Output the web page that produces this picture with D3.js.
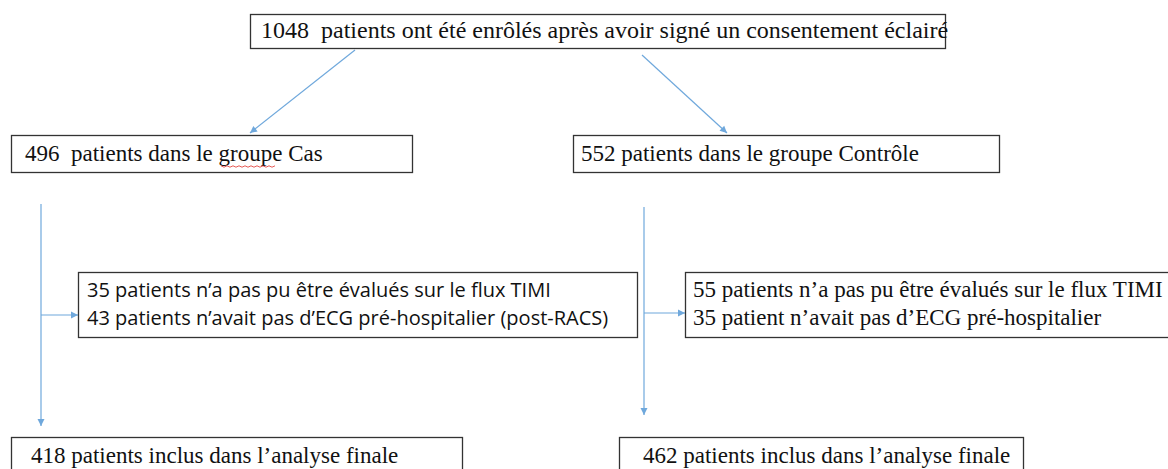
<!DOCTYPE html>
<html>
<head>
<meta charset="utf-8">
<script src="https://cdn.jsdelivr.net/npm/d3@7"></script>
<style>
  body { margin: 0; background: #fff; }
  svg { display: block; }
</style>
</head>
<body>
<svg id="chart"></svg>
<script>
// flow chart content
var enrolled = ["1048\u00a0 patients ont été enrôlés après avoir signé un consentement éclairé"];
var groups = ["496\u00a0 patients dans le groupe Cas", "552 patients dans le groupe Contrôle"];
var excludedCas = ["35 patients n\u2019a pas pu être évalués sur le flux TIMI",
                   "43 patients n\u2019avait pas d\u2019ECG pré-hospitalier (post-RACS)"];
var excludedControle = ["55 patients n\u2019a pas pu être évalués sur le flux TIMI",
                        "35 patient n\u2019avait pas d\u2019ECG pré-hospitalier"];
var finals = ["418 patients inclus dans l\u2019analyse finale", "462 patients inclus dans l\u2019analyse finale"];

var W = 1168, H = 469;
var lineCol = "#6fa8dc";
var serifFont = "Liberation Serif";
var sansFont = "Open Sans";

// layout: box position/size, text start, baselines, width the widest line should take
var boxes = [
  {x: 250, y: 14, w: 695, h: 34, font: serifFont, lines: enrolled, tx: 261, ty: [38], fit: 681},
  {x: 11, y: 135, w: 401, h: 37, font: serifFont, lines: [groups[0]], tx: 25, ty: [161], fit: 298},
  {x: 573, y: 135, w: 426, h: 37, font: serifFont, lines: [groups[1]], tx: 581, ty: [161], fit: 337},
  {x: 685, y: 272, w: 490, h: 65, font: serifFont, lines: excludedControle, tx: 693, ty: [297, 325], fit: 467},
  {x: 11, y: 437, w: 451, h: 60, font: serifFont, lines: [finals[0]], tx: 31, ty: [463], fit: 365},
  {x: 619, y: 437, w: 404, h: 60, font: serifFont, lines: [finals[1]], tx: 643, ty: [463], fit: 367},
  {x: 78, y: 272, w: 559, h: 65, font: sansFont, lines: excludedCas, tx: 87, ty: [297, 325], fit: 523}
];

var arrows = [
  {x1: 355, y1: 50, x2: 250, y2: 133},
  {x1: 642, y1: 55, x2: 727, y2: 133},
  {x1: 41, y1: 204, x2: 41, y2: 426},
  {x1: 41, y1: 315, x2: 78, y2: 315},
  {x1: 644, y1: 207, x2: 644, y2: 415},
  {x1: 644, y1: 313, x2: 685, y2: 313}
];

var svg = d3.select("#chart")
  .attr("width", W)
  .attr("height", H);

svg.selectAll("line.arrow")
  .data(arrows)
  .enter().append("line")
  .attr("class", "arrow")
  .attr("x1", function(d) { return d.x1; })
  .attr("y1", function(d) { return d.y1; })
  .attr("x2", function(d) { return d.x2; })
  .attr("y2", function(d) { return d.y2; })
  .attr("stroke", lineCol)
  .attr("stroke-width", 1.2);

// arrow heads as small triangles at the end of each line
svg.selectAll("path.head")
  .data(arrows)
  .enter().append("path")
  .attr("class", "head")
  .attr("d", function(d) {
    var a = Math.atan2(d.y2 - d.y1, d.x2 - d.x1), L = 7, s = 3.5;
    var bx = d.x2 - L * Math.cos(a), by = d.y2 - L * Math.sin(a);
    var px = -Math.sin(a) * s, py = Math.cos(a) * s;
    return "M" + d.x2 + "," + d.y2 + "L" + (bx + px) + "," + (by + py) + "L" + (bx - px) + "," + (by - py) + "Z";
  })
  .attr("fill", lineCol);

var g = svg.selectAll("g.box")
  .data(boxes)
  .enter().append("g")
  .attr("class", "box");

g.append("rect")
  .attr("x", function(d) { return d.x + 0.5; })
  .attr("y", function(d) { return d.y + 0.5; })
  .attr("width", function(d) { return d.w; })
  .attr("height", function(d) { return d.h; })
  .attr("fill", "#fff")
  .attr("stroke", "#333")
  .attr("stroke-width", 1.3);

g.each(function(d) {
  var sel = d3.select(this);
  var widest = 0;
  d.lines.forEach(function(t, i) {
    var txt = sel.append("text")
      .attr("x", d.tx)
      .attr("y", d.ty[i])
      .attr("font-family", d.font)
      .attr("font-size", 20)
      .attr("fill", "#111")
      .text(t);
    widest = Math.max(widest, txt.node().getComputedTextLength());
  });
  // size the font so the widest line matches the picture
  sel.selectAll("text").attr("font-size", Math.round(40 * d.fit / widest) / 2);
});

// red spell-check squiggle under "groupe"
var sq = d3.range(0, 19).map(function(i) { return [221 + i * 3, 166 + (i % 2 ? 1.2 : -0.2)]; });
svg.append("path")
  .attr("d", d3.line()(sq))
  .attr("fill", "none")
  .attr("stroke", "#e0302a")
  .attr("stroke-width", 0.8);
</script>
</body>
</html>
